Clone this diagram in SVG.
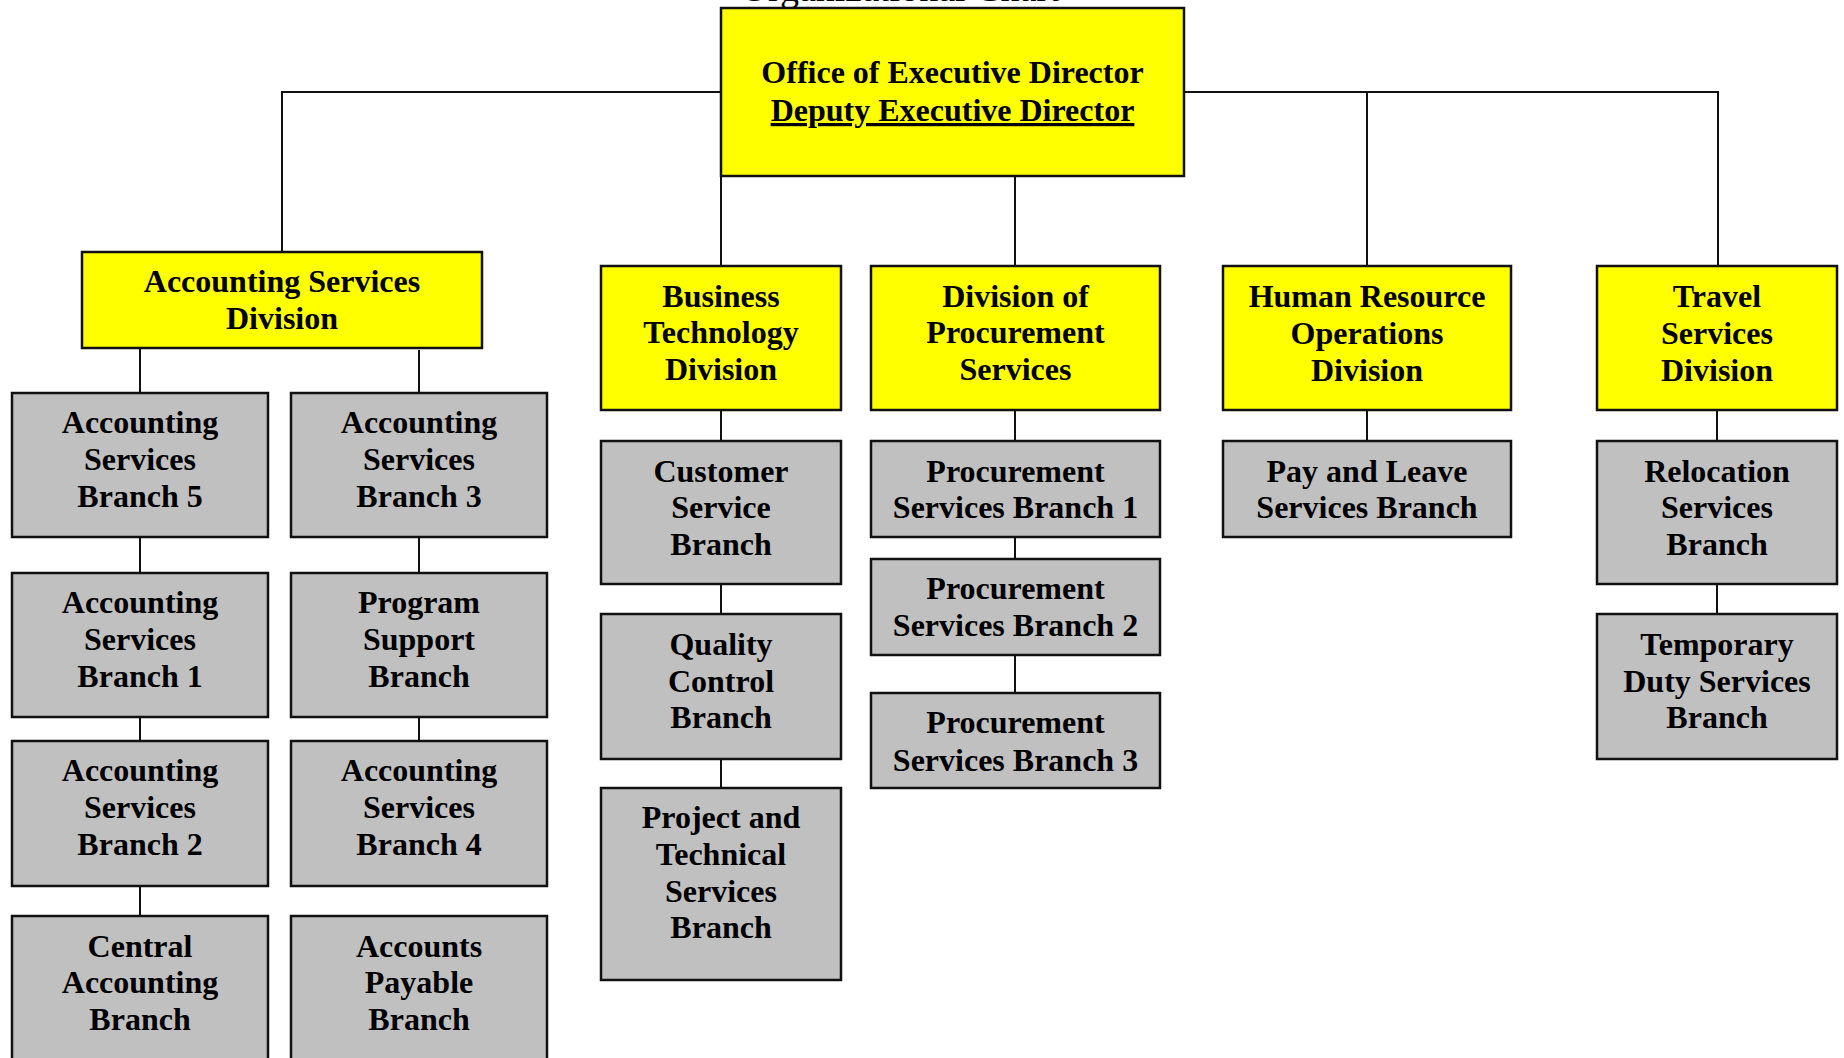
<svg xmlns="http://www.w3.org/2000/svg" width="1844" height="1058" viewBox="0 0 1844 1058">
<style>
.div{fill:#ffff00;stroke:#111;stroke-width:2.5}
.br{fill:#c0c0c0;stroke:#111;stroke-width:2.5}
.t{font-family:"Liberation Serif","Times New Roman",serif;font-weight:bold;font-size:32px;fill:#000;text-anchor:middle}
.title{font-family:"Liberation Serif","Times New Roman",serif;font-size:38px;fill:#000;text-anchor:middle}
.c line{stroke:#111;stroke-width:2}
</style>
<rect width="1844" height="1058" fill="#fff"/>
<text class="title" x="900" y="1">Organizational Chart</text>
<g class="c" id="connectors">
<line x1="282" y1="92" x2="1719" y2="92"/>
<line x1="282" y1="91" x2="282" y2="252"/>
<line x1="1367" y1="92" x2="1367" y2="266"/>
<line x1="1718" y1="91" x2="1718" y2="266"/>
<line x1="721" y1="176" x2="721" y2="266"/>
<line x1="1015" y1="176" x2="1015" y2="266"/>
<line x1="140" y1="348" x2="140" y2="393"/>
<line x1="140" y1="537" x2="140" y2="573"/>
<line x1="140" y1="717" x2="140" y2="741"/>
<line x1="140" y1="886" x2="140" y2="916"/>
<line x1="419" y1="350" x2="419" y2="393"/>
<line x1="419" y1="537" x2="419" y2="573"/>
<line x1="419" y1="717" x2="419" y2="741"/>
<line x1="721" y1="410" x2="721" y2="441"/>
<line x1="721" y1="584" x2="721" y2="614"/>
<line x1="721" y1="759" x2="721" y2="788"/>
<line x1="1015" y1="410" x2="1015" y2="441"/>
<line x1="1015" y1="537" x2="1015" y2="559"/>
<line x1="1015" y1="655" x2="1015" y2="693"/>
<line x1="1367" y1="410" x2="1367" y2="441"/>
<line x1="1717" y1="410" x2="1717" y2="441"/>
<line x1="1717" y1="584" x2="1717" y2="614"/>
</g>
<g id="exec">
<rect class="div" x="721" y="8" width="463" height="168"/>
<text class="t" x="952.5" y="83">Office of Executive Director</text>
<text class="t" x="952.5" y="121" text-decoration="underline">Deputy Executive Director</text>
</g>
<g id="asd">
<rect class="div" x="82" y="252" width="400" height="96"/>
<text class="t" x="282" y="292">Accounting Services</text>
<text class="t" x="282" y="329">Division</text>
</g>
<g id="asb5">
<rect class="br" x="12" y="393" width="256" height="144"/>
<text class="t" x="140" y="433">Accounting</text>
<text class="t" x="140" y="470">Services</text>
<text class="t" x="140" y="507">Branch 5</text>
</g>
<g id="asb1">
<rect class="br" x="12" y="573" width="256" height="144"/>
<text class="t" x="140" y="613">Accounting</text>
<text class="t" x="140" y="650">Services</text>
<text class="t" x="140" y="687">Branch 1</text>
</g>
<g id="asb2">
<rect class="br" x="12" y="741" width="256" height="145"/>
<text class="t" x="140" y="781">Accounting</text>
<text class="t" x="140" y="818">Services</text>
<text class="t" x="140" y="855">Branch 2</text>
</g>
<g id="cab">
<rect class="br" x="12" y="916" width="256" height="160"/>
<text class="t" x="140" y="957">Central</text>
<text class="t" x="140" y="993">Accounting</text>
<text class="t" x="140" y="1030">Branch</text>
</g>
<g id="asb3">
<rect class="br" x="291" y="393" width="256" height="144"/>
<text class="t" x="419" y="433">Accounting</text>
<text class="t" x="419" y="470">Services</text>
<text class="t" x="419" y="507">Branch 3</text>
</g>
<g id="psb">
<rect class="br" x="291" y="573" width="256" height="144"/>
<text class="t" x="419" y="613">Program</text>
<text class="t" x="419" y="650">Support</text>
<text class="t" x="419" y="687">Branch</text>
</g>
<g id="asb4">
<rect class="br" x="291" y="741" width="256" height="145"/>
<text class="t" x="419" y="781">Accounting</text>
<text class="t" x="419" y="818">Services</text>
<text class="t" x="419" y="855">Branch 4</text>
</g>
<g id="apb">
<rect class="br" x="291" y="916" width="256" height="160"/>
<text class="t" x="419" y="957">Accounts</text>
<text class="t" x="419" y="993">Payable</text>
<text class="t" x="419" y="1030">Branch</text>
</g>
<g id="btd">
<rect class="div" x="601" y="266" width="240" height="144"/>
<text class="t" x="721" y="307">Business</text>
<text class="t" x="721" y="343">Technology</text>
<text class="t" x="721" y="380">Division</text>
</g>
<g id="csb">
<rect class="br" x="601" y="441" width="240" height="143"/>
<text class="t" x="721" y="482">Customer</text>
<text class="t" x="721" y="518">Service</text>
<text class="t" x="721" y="555">Branch</text>
</g>
<g id="qcb">
<rect class="br" x="601" y="614" width="240" height="145"/>
<text class="t" x="721" y="655">Quality</text>
<text class="t" x="721" y="692">Control</text>
<text class="t" x="721" y="728">Branch</text>
</g>
<g id="ptsb">
<rect class="br" x="601" y="788" width="240" height="192"/>
<text class="t" x="721" y="828">Project and</text>
<text class="t" x="721" y="865">Technical</text>
<text class="t" x="721" y="902">Services</text>
<text class="t" x="721" y="938">Branch</text>
</g>
<g id="dps">
<rect class="div" x="871" y="266" width="289" height="144"/>
<text class="t" x="1015.5" y="307">Division of</text>
<text class="t" x="1015.5" y="343">Procurement</text>
<text class="t" x="1015.5" y="380">Services</text>
</g>
<g id="psb1">
<rect class="br" x="871" y="441" width="289" height="96"/>
<text class="t" x="1015.5" y="482">Procurement</text>
<text class="t" x="1015.5" y="518">Services Branch 1</text>
</g>
<g id="psb2">
<rect class="br" x="871" y="559" width="289" height="96"/>
<text class="t" x="1015.5" y="599">Procurement</text>
<text class="t" x="1015.5" y="636">Services Branch 2</text>
</g>
<g id="psb3">
<rect class="br" x="871" y="693" width="289" height="95"/>
<text class="t" x="1015.5" y="733">Procurement</text>
<text class="t" x="1015.5" y="771">Services Branch 3</text>
</g>
<g id="hrod">
<rect class="div" x="1223" y="266" width="288" height="144"/>
<text class="t" x="1367" y="307">Human Resource</text>
<text class="t" x="1367" y="344">Operations</text>
<text class="t" x="1367" y="381">Division</text>
</g>
<g id="plsb">
<rect class="br" x="1223" y="441" width="288" height="96"/>
<text class="t" x="1367" y="482">Pay and Leave</text>
<text class="t" x="1367" y="518">Services Branch</text>
</g>
<g id="tsd">
<rect class="div" x="1597" y="266" width="240" height="144"/>
<text class="t" x="1717" y="307">Travel</text>
<text class="t" x="1717" y="344">Services</text>
<text class="t" x="1717" y="381">Division</text>
</g>
<g id="rsb">
<rect class="br" x="1597" y="441" width="240" height="143"/>
<text class="t" x="1717" y="482">Relocation</text>
<text class="t" x="1717" y="518">Services</text>
<text class="t" x="1717" y="555">Branch</text>
</g>
<g id="tdsb">
<rect class="br" x="1597" y="614" width="240" height="145"/>
<text class="t" x="1717" y="655">Temporary</text>
<text class="t" x="1717" y="692">Duty Services</text>
<text class="t" x="1717" y="728">Branch</text>
</g>
</svg>
